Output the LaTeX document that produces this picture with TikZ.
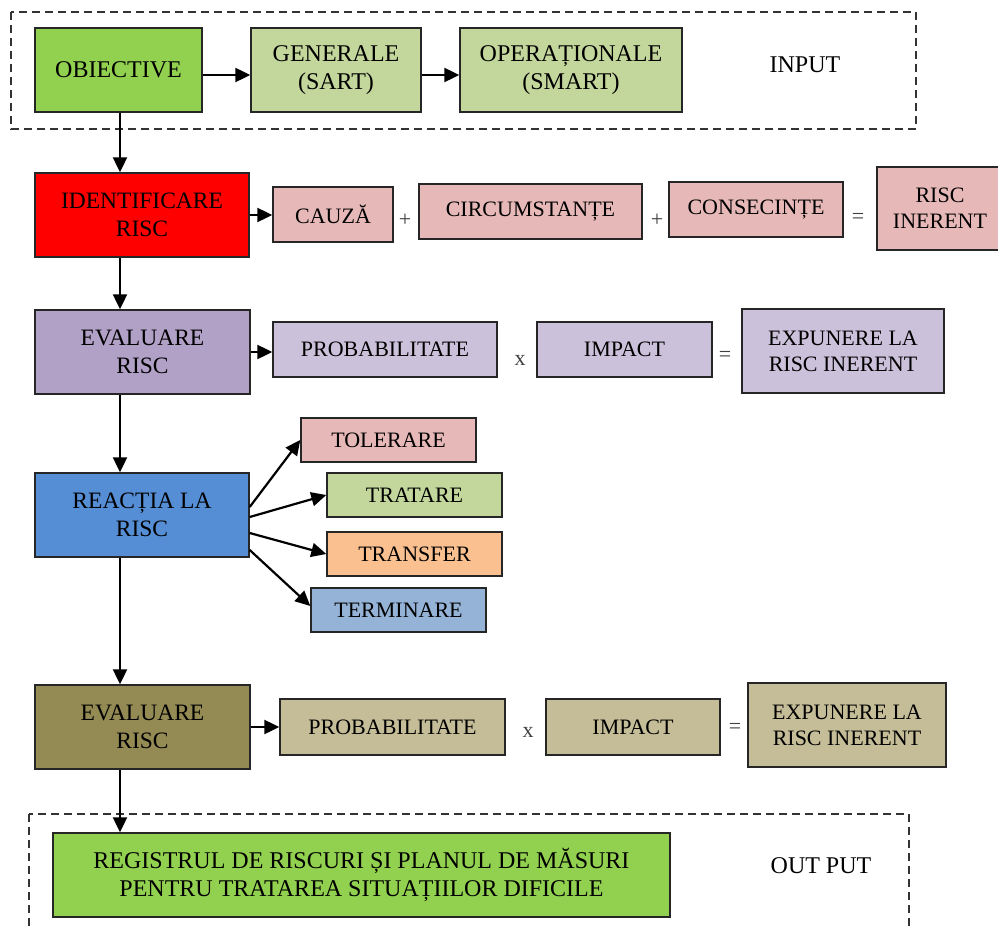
\documentclass[tikz,border=0pt]{standalone}
\usepackage{fontspec}
\setmainfont{Liberation Serif}
\usetikzlibrary{arrows.meta}

\definecolor{gstrong}{HTML}{92D050}
\definecolor{glight}{HTML}{C3D69B}
\definecolor{rstrong}{HTML}{FF0000}
\definecolor{rlight}{HTML}{E6B9B8}
\definecolor{pstrong}{HTML}{B2A1C7}
\definecolor{plight}{HTML}{CCC1DA}
\definecolor{bstrong}{HTML}{558ED5}
\definecolor{blight}{HTML}{95B3D7}
\definecolor{orlight}{HTML}{FAC090}
\definecolor{ostrong}{HTML}{948A54}
\definecolor{olight}{HTML}{C4BD97}

\begin{document}
\begin{tikzpicture}[x=1pt,y=-1pt,
  box/.style={draw=black!85, line width=1.4pt, inner sep=0pt, align=center, text=black},
  big/.style={font=\fontsize{24}{28}\selectfont},
  mid/.style={font=\fontsize{23.5}{28}\selectfont},
  small/.style={font=\fontsize{22}{26}\selectfont},
  sign/.style={font=\fontsize{22}{26}\selectfont, text=black!75, inner sep=0pt},
  label/.style={font=\fontsize{24}{28}\selectfont, text=black, inner sep=0pt},
  arr/.style={line width=2.2pt, draw=black, -{Triangle[length=15pt,width=14pt]}},
  frame/.style={draw=black!80, line width=1.3pt, dash pattern=on 8pt off 5pt}
]
\useasboundingbox (0,0) rectangle (998,928);

% input frame
\draw[frame] (11,12) rectangle (916,129);
\node[box, big, fill=gstrong, minimum width=167pt, minimum height=84pt] (obj) at (118.5,70) {OBIECTIVE};
\node[box, big, fill=glight, minimum width=170pt, minimum height=84pt] (gen) at (336,70) {GENERALE\\(SART)};
\node[box, big, fill=glight, minimum width=222pt, minimum height=84pt] (opr) at (571,70) {OPERAȚIONALE\\(SMART)};
\node[label] (inp) at (805,65) {INPUT};
\draw[arr] ([yshift=-5pt]obj.east) -- ([yshift=-5pt]obj.east -| gen.west);
\draw[arr] ([yshift=-5pt]gen.east) -- ([yshift=-5pt]gen.east -| opr.west);

% risk identification
\node[box, mid, fill=rstrong, minimum width=214pt, minimum height=84pt] (ident) at (142,215) {IDENTIFICARE\\RISC};
\node[box, small, fill=rlight, minimum width=120pt, minimum height=55pt] (cauza) at (333,214.5) {CAUZĂ};
\node[sign] (p1) at (405,220) {+};
\node[box, small, fill=rlight, minimum width=223pt, minimum height=55pt] (circ) at (530.5,211.5) {CIRCUMSTANȚE};
\node[sign] (p2) at (657,220) {+};
\node[box, small, fill=rlight, minimum width=174pt, minimum height=55pt] (cons) at (756,209.5) {CONSECINȚE};
\node[sign] (e1) at (858,218) {=};
\node[box, small, fill=rlight, minimum width=126pt, minimum height=83pt] (inh) at (940,208.5) {RISC\\INERENT};
\draw[arr] (ident.east) -- (ident.east -| cauza.west);

% first evaluation
\node[box, mid, fill=pstrong, minimum width=215pt, minimum height=84pt] (ev1) at (142.5,352) {EVALUARE\\RISC};
\node[box, small, fill=plight, minimum width=224pt, minimum height=55pt] (prob1) at (385,349.5) {PROBABILITATE};
\node[sign] (x1) at (520,360) {x};
\node[box, small, fill=plight, minimum width=175pt, minimum height=55pt] (imp1) at (624.5,349.5) {IMPACT};
\node[sign] (e2) at (725,356) {=};
\node[box, small, fill=plight, minimum width=202pt, minimum height=84pt] (exp1) at (843,351) {EXPUNERE LA\\RISC INERENT};
\draw[arr] (ev1.east) -- (ev1.east -| prob1.west);

% risk response
\node[box, mid, fill=bstrong, minimum width=214pt, minimum height=84pt] (react) at (142,515) {REACȚIA LA\\RISC};
\node[box, small, fill=rlight, minimum width=175pt, minimum height=44pt] (tol) at (388.5,440) {TOLERARE};
\node[box, small, fill=glight, minimum width=175pt, minimum height=44pt] (trat) at (414.5,495) {TRATARE};
\node[box, small, fill=orlight, minimum width=175pt, minimum height=44pt] (trans) at (414.5,554) {TRANSFER};
\node[box, small, fill=blight, minimum width=175pt, minimum height=44pt] (term) at (398.5,610) {TERMINARE};
\draw[arr] ([yshift=8pt]react.east) -- (tol.west);
\draw[arr] ([yshift=-2pt]react.east) -- (trat.west);
\draw[arr] ([yshift=-18pt]react.east) -- (trans.west);
\draw[arr] ([yshift=-35pt]react.east) -- ([yshift=4pt]term.west);

% second evaluation
\node[box, mid, fill=ostrong, minimum width=215pt, minimum height=84pt] (ev2) at (142.5,727) {EVALUARE\\RISC};
\node[box, small, fill=olight, minimum width=225pt, minimum height=56pt] (prob2) at (392.5,727) {PROBABILITATE};
\node[sign] (x2) at (528,732) {x};
\node[box, small, fill=olight, minimum width=174pt, minimum height=56pt] (imp2) at (633,727) {IMPACT};
\node[sign] (e3) at (735,728) {=};
\node[box, small, fill=olight, minimum width=198pt, minimum height=84pt] (exp2) at (847,725) {EXPUNERE LA\\RISC INERENT};
\draw[arr] (ev2.east) -- (ev2.east -| prob2.west);

% output frame
\draw[frame] (29,814) rectangle (909,950);
\node[box, big, fill=gstrong, minimum width=617pt, minimum height=84pt] (reg) at (361.5,875) {REGISTRUL DE RISCURI ȘI PLANUL DE MĂSURI\\PENTRU TRATAREA SITUAȚIILOR DIFICILE};
\node[label] (outp) at (821,866) {OUT PUT};

% main vertical chain
\coordinate (spine) at (120,0);
\draw[arr] (spine |- obj.south) -- (spine |- ident.north);
\draw[arr] (spine |- ident.south) -- (spine |- ev1.north);
\draw[arr] (spine |- ev1.south) -- (spine |- react.north);
\draw[arr] (spine |- react.south) -- (spine |- ev2.north);
\draw[arr] (spine |- ev2.south) -- (spine |- reg.north);
\end{tikzpicture}
\end{document}
